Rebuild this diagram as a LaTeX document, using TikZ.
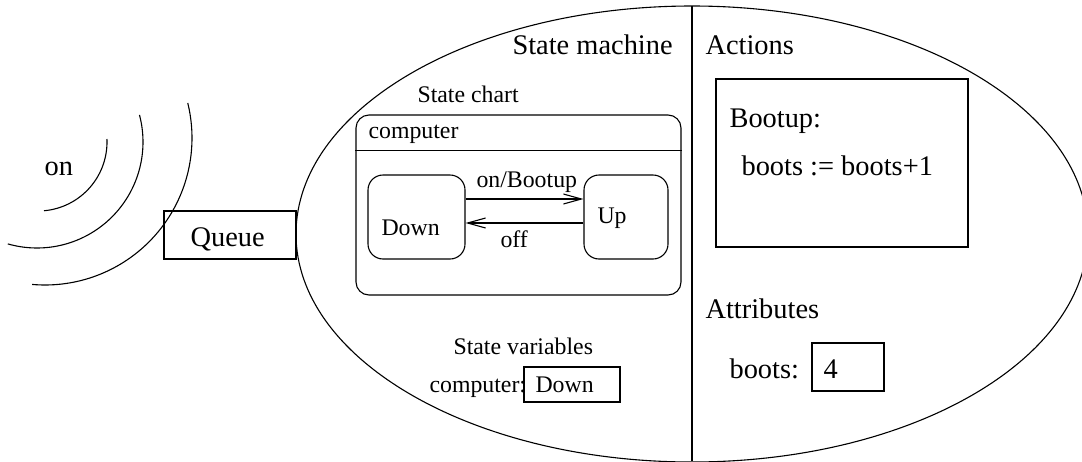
\documentclass[tikz,border=0pt]{standalone}
\usepackage{fontspec}
\setmainfont{Liberation Serif}
\usetikzlibrary{arrows.meta}
\begin{document}
\begin{tikzpicture}[x=0.5pt,y=-0.5pt, line width=0.55pt,
  big/.style={font=\fontsize{14.2}{17}\selectfont, inner sep=0pt, anchor=base west},
  small/.style={font=\fontsize{11.9}{14}\selectfont, inner sep=0pt, anchor=base west},
  box/.style={draw, inner sep=0pt},
  statebox/.style={draw, rounded corners=7.5pt, inner sep=0pt, minimum height=42pt},
  trans/.style={-{Straight Barb[length=9pt,width=5pt]}},
  wave/.style={line width=0.55pt}]
\useasboundingbox (0,0) rectangle (1082,461);
% state machine ellipse and divider
\draw (692,234) ellipse [x radius=198pt, y radius=114pt];
\coordinate (vtop) at (692,6);
\coordinate (vbot) at (692,461);
\draw (vtop) -- (vbot);
% incoming waves
\draw[wave] plot[domain=-2.5:85, samples=60, smooth] ({38+69*cos(\x)},{142+69*sin(\x)});
\draw[wave] plot[domain=-14.8:106, samples=80, smooth] ({37+106*cos(\x)},{142+106*sin(\x)});
\draw[wave] plot[domain=-13.8:95, samples=90, smooth] ({45+147*cos(\x)},{138+147*sin(\x)});
\node[big] (on) at (44,175) {on};
% queue
\node[box, minimum width=66pt, minimum height=24pt] (queue) at (230,235) {};
\node[big] (queuet) at (190,246) {Queue};
% titles
\node[big] (smt) at (512,54) {State machine};
\node[small] (sct) at (417,102) {State chart};
% state chart
\node[draw, rounded corners=6.5pt, inner sep=0pt, minimum width=162.5pt, minimum height=90pt] (chart) at (518.5,205) {};
\draw ([yshift=-18pt]chart.north west) -- ([yshift=-18pt]chart.north east);
\node[small] (chartt) at (368,138) {computer};
\node[statebox, minimum width=48.5pt] (down) at (416.5,217) {};
\node[statebox, minimum width=42pt] (up) at (626,217) {};
\node[small] (downt) at (381,235) {Down};
\node[small] (upt) at (597,223) {Up};
\draw[trans] ([yshift=9pt]down.east) -- ([yshift=9pt]up.west);
\draw[trans] ([yshift=-3pt]up.west) -- ([yshift=-3pt]down.east);
\node[small] (onb) at (476,187) {on/Bootup};
\node[small] (off) at (500,247) {off};
% state variables
\node[small] (svt) at (453,354) {State variables};
\node[small] (cvar) at (429,392) {computer:};
\node[box, minimum width=48pt, minimum height=17.5pt] (cbox) at (572,384.5) {};
\node[small] (cval) at (535,392) {Down};
% actions
\node[big] (act) at (705,54) {Actions};
\node[box, minimum width=126pt, minimum height=84pt] (abox) at (842,163) {};
\node[big] (boot) at (729,127) {Bootup:};
\node[big] (bstmt) at (741,175) {boots := boots+1};
% attributes
\node[big] (attr) at (705,318) {Attributes};
\node[big] (bootsl) at (729,378) {boots:};
\node[box, minimum width=36pt, minimum height=24pt] (bbox) at (848,367) {};
\node[big] (bval) at (823,378) {4};
\end{tikzpicture}
\end{document}
